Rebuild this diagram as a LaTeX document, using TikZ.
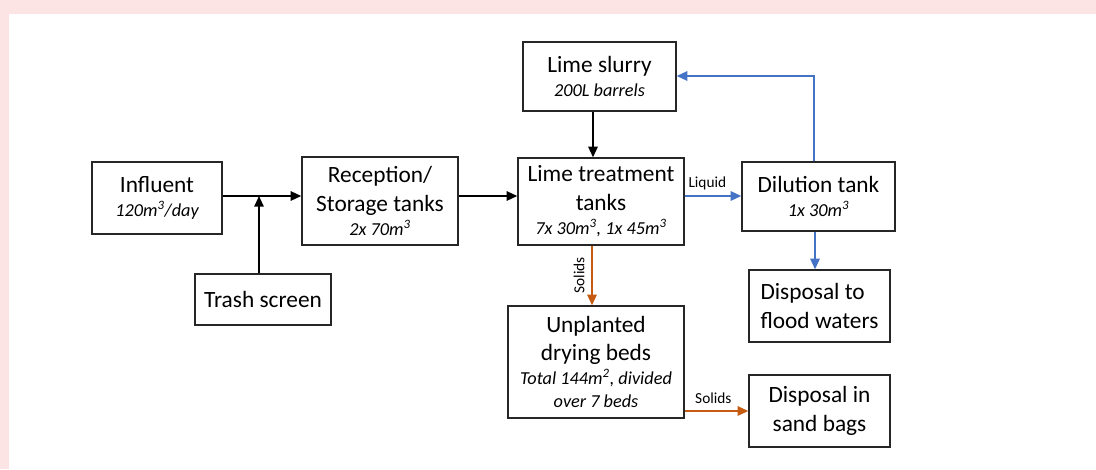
\documentclass[tikz,border=0pt]{standalone}
\usepackage{fontspec}
\setmainfont{Carlito}
\usetikzlibrary{arrows.meta}
\definecolor{pinkbg}{HTML}{FCE4E4}
\definecolor{flowblue}{HTML}{4472C4}
\definecolor{floworange}{HTML}{C55A11}
\newcommand{\subtxt}[1]{{\fontsize{13.7}{16}\selectfont\itshape #1}}
\tikzset{
  box/.style={draw=black!85, line width=1pt, align=center, inner sep=2pt,
    font=\fontsize{17.5}{21.3}\selectfont},
  flow/.style={line width=1.4pt, -{Triangle[length=8pt,width=7pt]}},
  lbl/.style={font=\fontsize{11.5}{13}\selectfont, inner sep=1pt}
}
\begin{document}
\begin{tikzpicture}[x=0.75pt,y=-0.75pt]
\useasboundingbox (0,0) rectangle (1096,469);
\fill[pinkbg] (0,0) rectangle (1096,14);
\fill[pinkbg] (0,0) rectangle (9,469);

\node[box, minimum width=130*0.75pt, minimum height=72*0.75pt] (infl) at (157,198)
  {Influent\\[-3pt]\subtxt{120m\textsuperscript{3}/day}};
\node[box, minimum width=136*0.75pt, minimum height=51*0.75pt] (trash) at (263,299.5)
  {Trash screen};
\node[box, minimum width=156*0.75pt, minimum height=88*0.75pt] (rec) at (380,201)
  {Reception/\\Storage tanks\\[-3pt]\subtxt{2x 70m\textsuperscript{3}}};
\node[box, minimum width=153*0.75pt, minimum height=69*0.75pt] (slurry) at (599.5,76.5)
  {Lime slurry\\[-3pt]\subtxt{200L barrels}};
\node[box, minimum width=166*0.75pt, minimum height=87*0.75pt] (lime) at (601,201.5)
  {Lime treatment\\tanks\\[-3pt]\subtxt{7x 30m\textsuperscript{3}, 1x 45m\textsuperscript{3}}};
\node[box, minimum width=153*0.75pt, minimum height=69*0.75pt] (dil) at (818.5,196.5)
  {Dilution tank\\[-3pt]\subtxt{1x 30m\textsuperscript{3}}};
\node[box, align=left, minimum width=141*0.75pt, minimum height=72*0.75pt] (flood) at (819.5,306)
  {Disposal to\\flood waters};
\node[box, minimum width=141*0.75pt, minimum height=72*0.75pt] (sand) at (819.5,411)
  {Disposal in\\sand bags};
\node[box, minimum width=176*0.75pt, minimum height=112*0.75pt] (unpl) at (596,362)
  {Unplanted\\drying beds\\[-3pt]\subtxt{Total 144m\textsuperscript{2}, divided}\\[-4pt]\subtxt{over 7 beds}};

\coordinate (j) at (259,196);
\coordinate (fb) at (814,76);
\draw[flow] (infl.east |- j) -- (rec.west |- j);
\draw[flow] (trash.north -| j) -- (j);
\draw[flow] (rec.east |- j) -- (lime.west |- j);
\draw[flow] (slurry.south -| 593,0) -- (lime.north -| 593,0);
\draw[flow, flowblue] (lime.east |- j) -- node[lbl, above=3pt, text=black, pos=0.4] (liq) {Liquid} (dil.west |- j);
\draw[flow, flowblue] (dil.north -| fb) -- (fb) -- (slurry.east |- fb);
\draw[flow, flowblue] (dil.south -| 815,0) -- (flood.north -| 815,0);
\draw[flow, floworange] (lime.south -| 592,0) -- node[lbl, rotate=90, anchor=south, yshift=4pt, text=black] (sol1) {Solids} (unpl.north -| 592,0);
\draw[flow, floworange] (unpl.east |- sand.west) -- node[lbl, above=4pt, text=black, pos=0.45] (sol2) {Solids} (sand.west);
\end{tikzpicture}
\end{document}
